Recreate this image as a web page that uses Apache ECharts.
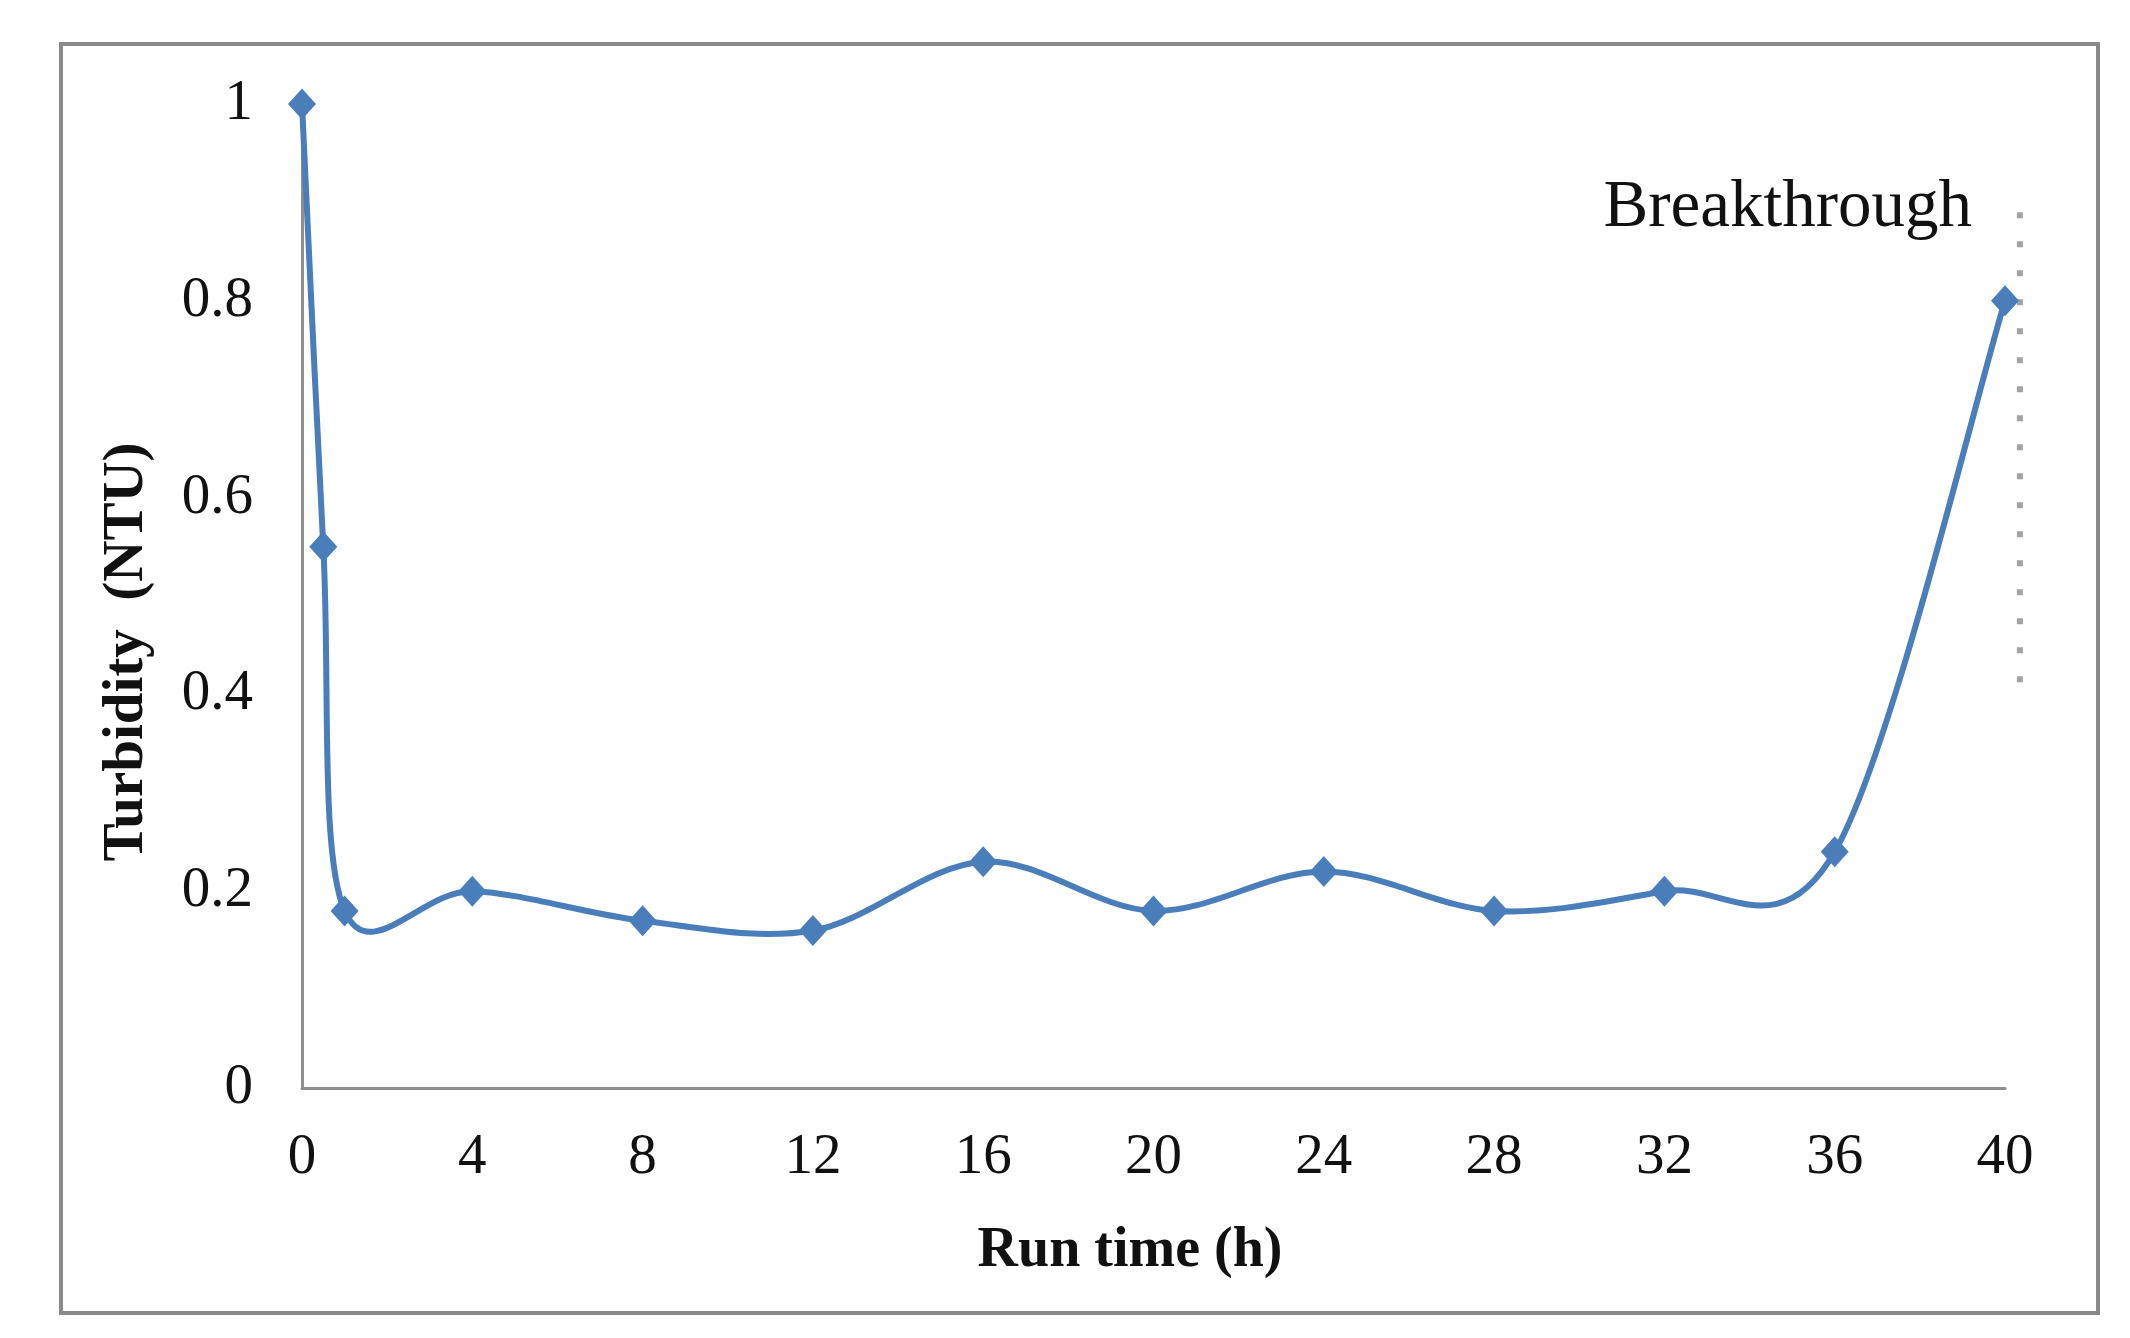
<!DOCTYPE html>
<html>
<head>
<meta charset="utf-8">
<script src="https://cdn.jsdelivr.net/npm/echarts@6/dist/echarts.min.js"></script>
<style>
  html, body { margin: 0; padding: 0; background: #fff; }
  #chart { width: 2130px; height: 1338px; }
</style>
</head>
<body>
<div id="chart"></div>
<script>
// run time (h) and turbidity (NTU)
var runTime = [0, 0.5, 1, 4, 8, 12, 16, 20, 24, 28, 32, 36, 40];
var turbidity = [1.0, 0.55, 0.18, 0.20, 0.17, 0.16, 0.23, 0.18, 0.22, 0.18, 0.20, 0.24, 0.80];
// breakthrough marker (dotted line): x, y from, y to
var breakX = [40.35];
var breakY = [0.405, 0.89];

var serif = '"Liberation Serif", "Times New Roman", serif';
var blue = '#4a7ebb';

// one smoothed segment per point (catmull-rom like excel)
function renderCurve(params, api) {
  var i = params.dataIndex;
  var n = runTime.length;
  if (i >= n - 1) return null;
  var p = function (k) {
    k = Math.max(0, Math.min(n - 1, k));
    return api.coord([runTime[k], turbidity[k]]);
  };
  var p0 = p(i - 1), p1 = p(i), p2 = p(i + 1), p3 = p(i + 2);
  return {
    type: 'bezierCurve',
    shape: {
      x1: p1[0], y1: p1[1],
      x2: p2[0], y2: p2[1],
      cpx1: p1[0] + (p2[0] - p0[0]) / 6,
      cpy1: p1[1] + (p2[1] - p0[1]) / 6,
      cpx2: p2[0] - (p3[0] - p1[0]) / 6,
      cpy2: p2[1] - (p3[1] - p1[1]) / 6
    },
    style: { stroke: blue, lineWidth: 6, fill: null }
  };
}

var chart = echarts.init(document.getElementById('chart'));

var option = {
  backgroundColor: '#fff',
  animation: false,
  grid: { left: 302, right: 125, top: 104, bottom: 250 },
  xAxis: {
    type: 'value',
    min: 0,
    max: 40,
    interval: 4,
    axisLine: { show: true, lineStyle: { color: '#8f8f8f', width: 3 } },
    axisTick: { show: false },
    splitLine: { show: false },
    axisLabel: { fontFamily: serif, fontSize: 57, color: '#111', margin: 42 }
  },
  yAxis: {
    type: 'value',
    min: 0,
    max: 1,
    interval: 0.2,
    axisLine: { show: true, lineStyle: { color: '#8f8f8f', width: 3 } },
    axisTick: { show: false },
    splitLine: { show: false },
    axisLabel: {
      fontFamily: serif, fontSize: 57, color: '#111', margin: 49,
      formatter: function (v) { return v === 0 || v === 1 ? String(v) : v.toFixed(1); }
    }
  },
  series: [
    {
      type: 'custom',
      data: runTime.map(function (t, i) { return [t, turbidity[i]]; }),
      renderItem: renderCurve,
      clip: false,
      silent: true,
      z: 2
    },
    {
      type: 'scatter',
      data: runTime.map(function (t, i) { return [t, turbidity[i]]; }),
      symbol: 'diamond',
      symbolSize: [28, 31],
      itemStyle: { color: blue, opacity: 1 },
      z: 3
    },
    {
      type: 'custom',
      data: breakX.map(function (x) { return [x, breakY[0], breakY[1]]; }),
      renderItem: function (params, api) {
        var a = api.coord([api.value(0), api.value(2)]);
        var b = api.coord([api.value(0), api.value(1)]);
        return {
          type: 'line',
          shape: { x1: a[0], y1: a[1], x2: b[0], y2: b[1] },
          style: { stroke: '#a3a3a3', lineWidth: 6, lineDash: [6, 23] }
        };
      },
      clip: false,
      silent: true,
      z: 1
    }
  ],
  graphic: [
    {
      type: 'rect',
      shape: { x: 61, y: 44, width: 2037, height: 1269 },
      style: { fill: 'none', stroke: '#8a8a8a', lineWidth: 4 },
      silent: true
    },
    {
      type: 'text',
      x: 1130,
      y: 1252,
      style: {
        text: 'Run time (h)', fontFamily: serif, fontSize: 56, fontWeight: 'bold',
        fill: '#111', align: 'center', verticalAlign: 'middle'
      }
    },
    {
      type: 'text',
      x: 127,
      y: 652,
      rotation: Math.PI / 2,
      style: {
        text: 'Turbidity  (NTU)', fontFamily: serif, fontSize: 57, fontWeight: 'bold',
        fill: '#111', align: 'center', verticalAlign: 'middle'
      }
    },
    {
      type: 'text',
      x: 1972,
      y: 208,
      style: {
        text: 'Breakthrough', fontFamily: serif, fontSize: 67,
        fill: '#111', align: 'right', verticalAlign: 'middle'
      }
    }
  ]
};

chart.setOption(option);
</script>
</body>
</html>
